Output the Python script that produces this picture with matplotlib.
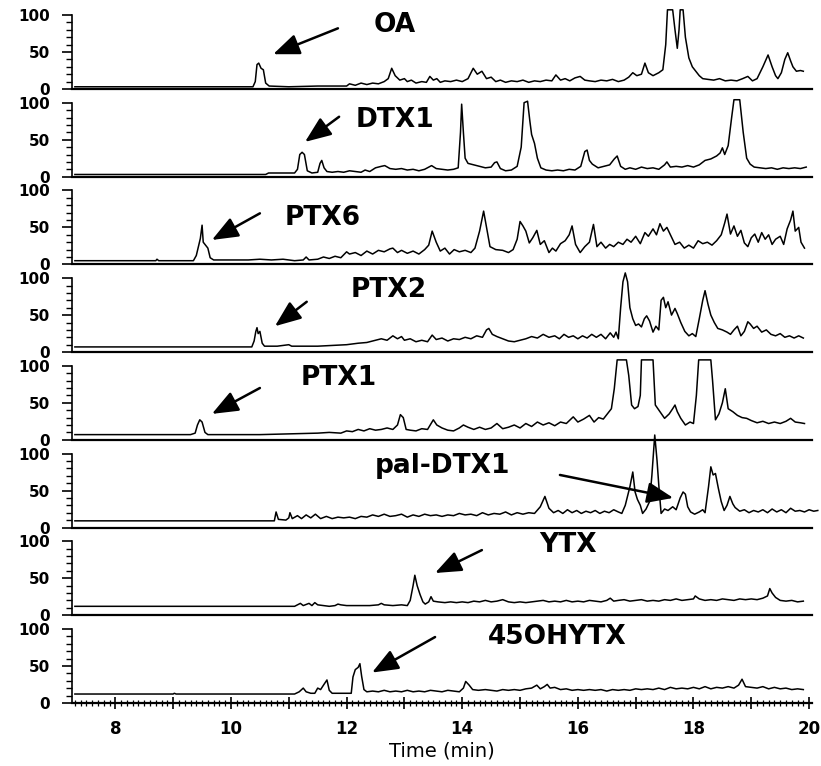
import matplotlib.pyplot as plt
from matplotlib.ticker import MultipleLocator, FuncFormatter

plt.rcParams['font.family'] = ['DejaVu Sans']

# ---- chromatogram traces (time in min, relative intensity %) ----
OA_T = [7.3, 10.38, 10.42, 10.45, 10.48, 10.52, 10.56, 10.6, 10.66, 11.0, 11.5, 12.0, 12.05, 12.15,
        12.25, 12.35, 12.45, 12.55, 12.65, 12.72, 12.78, 12.84, 12.92, 13.0, 13.05, 13.12, 13.2, 13.3,
        13.38, 13.44, 13.5, 13.56, 13.62, 13.7, 13.8, 13.9, 14.0, 14.1, 14.19, 14.26, 14.34, 14.42,
        14.5, 14.58, 14.66, 14.75, 14.85, 14.95, 15.05, 15.15, 15.25, 15.35, 15.45, 15.55, 15.62, 15.7,
        15.78, 15.86, 15.95, 16.04, 16.12, 16.2, 16.3, 16.4, 16.5, 16.6, 16.7, 16.8, 16.88, 16.95,
        17.02, 17.1, 17.16, 17.22, 17.3, 17.4, 17.47, 17.52, 17.55, 17.64, 17.68, 17.72, 17.75, 17.77,
        17.82, 17.86, 17.92, 17.98, 18.04, 18.1, 18.16, 18.25, 18.35, 18.45, 18.55, 18.65, 18.75, 18.85,
        18.94, 19.02, 19.1, 19.2, 19.29, 19.36, 19.42, 19.46, 19.52, 19.58, 19.63, 19.68, 19.72, 19.78,
        19.85, 19.9]
OA_V = [3, 3, 10, 33, 35, 28, 26, 8, 4, 3, 4, 4, 7, 5,
        8, 6, 8, 7, 10, 14, 28, 18, 12, 14, 10, 12, 8, 10,
        9, 17, 12, 14, 9, 11, 10, 12, 10, 14, 28, 20, 24, 14,
        16, 10, 12, 9, 11, 10, 12, 9, 11, 10, 12, 11, 19, 12,
        14, 11, 15, 17, 12, 11, 10, 12, 11, 13, 10, 12, 16, 22,
        18, 20, 35, 22, 18, 22, 26, 60, 107, 107, 80, 55, 80, 107,
        107, 70, 42, 30, 24, 18, 14, 13, 12, 14, 11, 12, 11, 14,
        17, 11, 14, 30, 46, 30, 18, 14, 22, 40, 49, 38, 30, 24,
        25, 24]

DTX1_T = [7.3, 10.6, 10.65, 11.1, 11.15, 11.19, 11.23, 11.27, 11.32, 11.4, 11.5, 11.54, 11.57, 11.61,
          11.66, 11.75, 11.85, 11.95, 12.05, 12.15, 12.25, 12.32, 12.4, 12.5, 12.6, 12.66, 12.75, 12.85,
          12.95, 13.05, 13.15, 13.25, 13.35, 13.47, 13.55, 13.65, 13.75, 13.85, 13.93, 13.97, 13.99, 14.02,
          14.05, 14.1, 14.2, 14.3, 14.4, 14.5, 14.56, 14.6, 14.66, 14.75, 14.85, 14.95, 15.02, 15.07,
          15.13, 15.17, 15.2, 15.25, 15.3, 15.36, 15.45, 15.55, 15.65, 15.75, 15.85, 15.95, 16.05, 16.12,
          16.16, 16.2, 16.25, 16.35, 16.45, 16.55, 16.63, 16.68, 16.74, 16.82, 16.9, 17.0, 17.1, 17.2,
          17.3, 17.4, 17.5, 17.54, 17.6, 17.7, 17.8, 17.9, 18.0, 18.1, 18.2, 18.3, 18.4, 18.46, 18.5,
          18.54, 18.6, 18.66, 18.7, 18.8, 18.86, 18.92, 18.98, 19.05, 19.15, 19.25, 19.35, 19.45, 19.55,
          19.65, 19.75, 19.85, 19.95]
DTX1_V = [3, 3, 5, 5, 10, 30, 33, 30, 8, 5, 6, 18, 22, 12,
          7, 6, 7, 6, 8, 7, 6, 9, 7, 12, 14, 15, 11, 10,
          11, 9, 10, 8, 10, 15, 11, 10, 9, 10, 12, 60, 98, 60,
          25, 18, 16, 14, 12, 13, 19, 20, 11, 8, 9, 14, 40, 100,
          102, 75, 57, 45, 25, 12, 9, 8, 9, 8, 10, 9, 14, 34,
          36, 22, 17, 12, 14, 16, 24, 28, 14, 10, 12, 10, 13, 11,
          12, 10, 16, 20, 13, 14, 13, 15, 13, 16, 22, 24, 28, 32, 39,
          30, 42, 80, 104, 104, 60, 25, 17, 13, 12, 11, 12, 10, 12,
          11, 12, 11, 13]

PTX6_T = [7.3, 8.7, 8.72, 8.75, 9.35, 9.4, 9.44, 9.47, 9.5, 9.52, 9.56, 9.6, 9.64, 9.7, 10.0, 10.3,
          10.5, 10.7, 10.9, 11.1, 11.25, 11.3, 11.35, 11.5, 11.6, 11.7, 11.8, 11.9, 12.0, 12.05, 12.15,
          12.25, 12.35, 12.45, 12.55, 12.65, 12.75, 12.8, 12.88, 12.95, 13.05, 13.15, 13.25, 13.35, 13.42,
          13.48, 13.55, 13.62, 13.7, 13.78, 13.86, 13.95, 14.05, 14.15, 14.22, 14.3, 14.37, 14.42, 14.48,
          14.58, 14.7, 14.8, 14.88, 14.95, 15.0, 15.05, 15.1, 15.16, 15.22, 15.29, 15.35, 15.42, 15.5,
          15.56, 15.62, 15.7, 15.78, 15.85, 15.9, 15.96, 16.04, 16.12, 16.2, 16.27, 16.33, 16.4, 16.48,
          16.55, 16.62, 16.7, 16.78, 16.85, 16.92, 17.0, 17.08, 17.16, 17.22, 17.3, 17.36, 17.42, 17.48,
          17.54, 17.6, 17.68, 17.76, 17.84, 17.92, 18.0, 18.08, 18.16, 18.24, 18.32, 18.4, 18.48, 18.54,
          18.58, 18.64, 18.7, 18.76, 18.82, 18.88, 18.94, 19.0, 19.06, 19.12, 19.18, 19.24, 19.3, 19.36,
          19.42, 19.5, 19.56, 19.62, 19.68, 19.72, 19.76, 19.82, 19.86, 19.92]
PTX6_V = [5, 5, 7, 5, 5, 12, 25, 35, 53, 30, 26, 22, 9, 6, 6, 6,
          7, 6, 7, 5, 6, 10, 6, 7, 10, 8, 11, 9, 17, 14, 16,
          12, 18, 14, 19, 17, 21, 22, 16, 19, 15, 18, 14, 20, 26,
          45, 30, 18, 22, 14, 20, 17, 19, 16, 22, 45, 72, 50, 24,
          20, 19, 16, 20, 34, 58, 52, 45, 29, 36, 46, 27, 32, 16,
          22, 18, 28, 32, 40, 52, 27, 16, 24, 30, 54, 24, 30, 22,
          27, 24, 30, 27, 34, 30, 38, 28, 43, 38, 48, 40, 55, 45,
          50, 40, 27, 30, 22, 26, 22, 32, 28, 30, 26, 32, 40, 56,
          68, 41, 52, 38, 46, 29, 24, 36, 41, 30, 43, 34, 40, 27,
          34, 38, 27, 48, 60, 72, 45, 50, 30, 22]

PTX2_T = [7.3, 10.36, 10.4, 10.43, 10.45, 10.47, 10.5, 10.54, 10.58, 10.8, 11.0, 11.05, 11.5, 12.0,
          12.2, 12.35, 12.5, 12.6, 12.7, 12.8, 12.88, 12.95, 13.0, 13.1, 13.2, 13.3, 13.4, 13.48, 13.55,
          13.65, 13.75, 13.85, 13.95, 14.05, 14.15, 14.25, 14.35, 14.42, 14.46, 14.52, 14.6, 14.7, 14.8,
          14.9, 15.0, 15.1, 15.2, 15.3, 15.4, 15.5, 15.6, 15.68, 15.76, 15.84, 15.92, 16.0, 16.08, 16.16,
          16.24, 16.32, 16.4, 16.48, 16.56, 16.62, 16.66, 16.7, 16.74, 16.78, 16.82, 16.86, 16.9, 16.95,
          17.0, 17.05, 17.1, 17.15, 17.19, 17.24, 17.3, 17.35, 17.4, 17.44, 17.48, 17.52, 17.56, 17.62,
          17.68, 17.72, 17.78, 17.85, 17.92, 17.98, 18.04, 18.1, 18.16, 18.2, 18.25, 18.3, 18.36, 18.42,
          18.5, 18.58, 18.64, 18.7, 18.76, 18.82, 18.88, 18.94, 18.98, 19.04, 19.1, 19.18, 19.26, 19.34,
          19.42, 19.5, 19.58, 19.66, 19.74, 19.82, 19.9]
PTX2_V = [7, 7, 15, 28, 33, 25, 28, 12, 8, 8, 10, 8, 8, 10,
          12, 13, 16, 18, 16, 22, 18, 21, 16, 18, 14, 16, 14, 23, 17,
          19, 15, 18, 17, 20, 18, 22, 20, 30, 32, 24, 21, 18, 15,
          14, 16, 18, 21, 19, 24, 20, 22, 18, 24, 20, 22, 18, 22, 19,
          24, 20, 24, 18, 26, 20, 27, 18, 60, 95, 107, 95, 60, 45,
          36, 38, 34, 45, 49, 42, 27, 35, 30, 70, 74, 60, 68, 50,
          59, 52, 40, 28, 22, 25, 21, 45, 70, 83, 65, 50, 40, 32,
          30, 27, 24, 30, 35, 22, 28, 41, 38, 32, 35, 27, 30, 24,
          22, 25, 20, 22, 19, 22, 19]

PTX1_T = [7.3, 9.3, 9.38, 9.42, 9.46, 9.5, 9.55, 9.6, 10.0, 10.5, 11.0, 11.5, 11.7, 11.9, 12.0, 12.1,
          12.2, 12.3, 12.4, 12.5, 12.6, 12.7, 12.8, 12.88, 12.93, 12.98, 13.03, 13.1, 13.2, 13.3, 13.4,
          13.5, 13.56, 13.65, 13.75, 13.85, 13.95, 14.02, 14.1, 14.2, 14.3, 14.4, 14.5, 14.6, 14.7, 14.8,
          14.9, 15.0, 15.1, 15.2, 15.3, 15.4, 15.5, 15.6, 15.7, 15.8, 15.92, 16.0, 16.1, 16.2, 16.28,
          16.36, 16.44, 16.52, 16.58, 16.63, 16.68, 16.84, 16.88, 16.93, 16.98, 17.04, 17.08, 17.1, 17.3,
          17.34, 17.42, 17.5, 17.58, 17.64, 17.68, 17.72, 17.78, 17.86, 17.94, 18.0, 18.05, 18.09, 18.3,
          18.33, 18.38, 18.44, 18.5, 18.55, 18.6, 18.68, 18.76, 18.84, 18.92, 19.0, 19.1, 19.2, 19.3,
          19.4, 19.5, 19.6, 19.68, 19.76, 19.85, 19.92]
PTX1_V = [7, 7, 9, 20, 27, 24, 10, 7, 7, 7, 8, 9, 10, 9, 12, 11,
          14, 12, 15, 13, 14, 16, 14, 20, 34, 30, 14, 13, 12, 15, 14,
          27, 20, 16, 13, 12, 16, 20, 17, 14, 17, 14, 16, 22, 15, 17,
          20, 16, 22, 18, 24, 20, 23, 19, 24, 22, 31, 24, 28, 33, 24,
          30, 28, 36, 42, 69, 108, 108, 87, 47, 42, 45, 60, 108, 108,
          47, 38, 29, 35, 42, 47, 38, 29, 20, 24, 22, 60, 108, 108,
          80, 27, 35, 50, 69, 42, 38, 33, 30, 29, 26, 23, 25, 22,
          24, 22, 25, 29, 24, 23, 22]

PAL_T = [7.3, 10.75, 10.78, 10.82, 10.95, 11.0, 11.02, 11.06, 11.15, 11.22, 11.3, 11.38, 11.46, 11.55,
         11.65, 11.75, 11.85, 11.95, 12.05, 12.15, 12.25, 12.35, 12.45, 12.55, 12.65, 12.75, 12.85, 12.95,
         13.05, 13.15, 13.25, 13.35, 13.45, 13.55, 13.65, 13.75, 13.85, 13.95, 14.05, 14.15, 14.25, 14.35,
         14.45, 14.55, 14.65, 14.75, 14.85, 14.95, 15.05, 15.15, 15.25, 15.35, 15.43, 15.5, 15.58, 15.66,
         15.74, 15.82, 15.9, 15.98, 16.06, 16.14, 16.22, 16.3, 16.38, 16.46, 16.54, 16.62, 16.7, 16.76,
         16.82, 16.9, 16.95, 16.99, 17.03, 17.08, 17.12, 17.18, 17.24, 17.28, 17.33, 17.37, 17.4, 17.44,
         17.5, 17.56, 17.64, 17.7, 17.77, 17.82, 17.86, 17.9, 17.95, 18.02, 18.1, 18.16, 18.2, 18.26,
         18.3, 18.34, 18.38, 18.43, 18.48, 18.53, 18.58, 18.63, 18.68, 18.72, 18.8, 18.88, 18.96, 19.04,
         19.12, 19.2, 19.28, 19.36, 19.44, 19.52, 19.6, 19.68, 19.76, 19.84, 19.92, 20.0, 20.08, 20.15]
PAL_V = [9, 9, 21, 11, 10, 13, 20, 12, 16, 12, 17, 13, 18, 12,
         15, 12, 14, 13, 14, 12, 15, 14, 17, 15, 18, 15, 16, 18,
         14, 17, 15, 18, 16, 17, 15, 17, 16, 19, 17, 18, 16, 20,
         17, 19, 18, 21, 17, 20, 18, 20, 19, 28, 42, 26, 20, 23,
         19, 24, 20, 23, 19, 22, 20, 23, 19, 22, 20, 24, 21, 19,
         30, 55, 75, 48, 38, 30, 19, 25, 35, 70, 125, 90, 57, 19,
         25, 23, 28, 24, 40, 48, 45, 28, 21, 18, 21, 24, 20, 55,
         82, 71, 73, 53, 35, 23, 30, 42, 32, 27, 22, 24, 20, 23,
         21, 24, 20, 25, 21, 24, 20, 26, 22, 23, 21, 24, 22, 23]

YTX_T = [7.3, 11.1, 11.15, 11.2, 11.25, 11.35, 11.4, 11.45, 11.5, 11.6, 11.7, 11.8, 11.85, 11.9, 12.0,
         12.2, 12.4, 12.55, 12.6, 12.65, 12.8, 12.95, 13.05, 13.1, 13.15, 13.18, 13.22, 13.27, 13.32,
         13.36, 13.42, 13.46, 13.5, 13.58, 13.7, 13.8, 13.9, 14.0, 14.1, 14.2, 14.3, 14.4, 14.5, 14.6,
         14.7, 14.8, 14.9, 15.0, 15.1, 15.2, 15.3, 15.4, 15.5, 15.6, 15.7, 15.8, 15.9, 16.0, 16.1, 16.2,
         16.3, 16.4, 16.5, 16.56, 16.62, 16.7, 16.8, 16.9, 17.0, 17.1, 17.2, 17.3, 17.4, 17.5, 17.6,
         17.7, 17.8, 17.9, 18.0, 18.03, 18.1, 18.2, 18.3, 18.4, 18.5, 18.6, 18.7, 18.8, 18.9, 19.0,
         19.1, 19.2, 19.28, 19.32, 19.36, 19.42, 19.5, 19.6, 19.7, 19.8, 19.9]
YTX_V = [12, 12, 14, 16, 13, 16, 13, 17, 14, 13, 12, 13, 15, 14, 13,
         13, 13, 14, 16, 14, 13, 14, 13, 20, 40, 54, 40, 28, 18,
         15, 18, 25, 19, 18, 17, 18, 17, 18, 17, 19, 18, 20, 18, 19,
         21, 18, 17, 18, 17, 18, 19, 20, 18, 19, 18, 20, 18, 19, 18, 20,
         19, 18, 20, 23, 19, 20, 21, 19, 20, 21, 19, 20, 19, 21, 20,
         22, 20, 21, 22, 26, 22, 20, 21, 20, 22, 21, 20, 22, 21, 22,
         21, 23, 26, 36, 30, 24, 20, 19, 20, 18, 19]

OHYTX_T = [7.3, 9.0, 9.02, 9.05, 11.1, 11.18, 11.25, 11.3, 11.38, 11.45, 11.5, 11.55, 11.6, 11.66,
           11.7, 11.75, 12.08, 12.11, 12.15, 12.2, 12.23, 12.26, 12.3, 12.35, 12.45, 12.55, 12.65, 12.75,
           12.85, 12.95, 13.05, 13.15, 13.25, 13.35, 13.45, 13.55, 13.65, 13.75, 13.85, 13.95, 14.02,
           14.06, 14.12, 14.18, 14.28, 14.4, 14.5, 14.6, 14.7, 14.8, 14.9, 15.0, 15.1, 15.2, 15.29, 15.35,
           15.42, 15.47, 15.52, 15.6, 15.7, 15.8, 15.9, 16.0, 16.1, 16.2, 16.3, 16.4, 16.5, 16.6, 16.7,
           16.8, 16.9, 17.0, 17.1, 17.2, 17.3, 17.4, 17.5, 17.6, 17.7, 17.8, 17.9, 18.0, 18.1, 18.2, 18.3,
           18.4, 18.5, 18.6, 18.7, 18.78, 18.84, 18.9, 19.0, 19.1, 19.2, 19.3, 19.4, 19.5, 19.6, 19.7,
           19.8, 19.9]
OHYTX_V = [12, 12, 13, 12, 12, 15, 20, 15, 13, 13, 20, 18, 24, 31,
           17, 13, 13, 35, 45, 48, 53, 36, 18, 15, 16, 15, 17, 15,
           16, 15, 17, 15, 16, 15, 17, 16, 15, 17, 16, 15, 20,
           29, 24, 18, 17, 18, 17, 16, 18, 17, 18, 17, 19, 20, 24, 19,
           22, 25, 20, 21, 18, 19, 17, 18, 17, 18, 17, 18, 16, 18, 17,
           18, 17, 19, 18, 19, 18, 20, 18, 21, 19, 20, 19, 21, 19, 22, 19,
           21, 20, 22, 20, 24, 32, 22, 21, 20, 22, 19, 21, 19, 20, 18,
           19, 18]

TRACES = [(OA_T, OA_V), (DTX1_T, DTX1_V), (PTX6_T, PTX6_V), (PTX2_T, PTX2_V),
          (PTX1_T, PTX1_V), (PAL_T, PAL_V), (YTX_T, YTX_V), (OHYTX_T, OHYTX_V)]

# ---- annotations: label text, label position, arrow tail, arrow tip (time, intensity) ----
LABELS = ["OA", "DTX1", "PTX6", "PTX2", "PTX1", "pal-DTX1", "YTX", "45OHYTX"]
LABEL_XY = [(12.84, 86), (12.84, 77), (11.59, 63), (12.72, 84),
            (11.87, 84), (13.65, 83), (15.83, 95), (15.64, 89)]
ARROW_TAIL = [(11.85, 82), (11.87, 81), (10.50, 69), (11.31, 68),
              (10.50, 70), (15.69, 71), (14.34, 88), (13.53, 89)]
ARROW_TIP = [(10.73, 47), (11.28, 47), (9.67, 33), (10.76, 35),
             (9.67, 35), (17.65, 40), (13.53, 57), (12.44, 41)]

W, H = 821, 766
fig = plt.figure(figsize=(W / 100, H / 100), dpi=100)

n = len(TRACES)
for i, ((t, v), lab, lxy, tail, tip) in enumerate(zip(TRACES, LABELS, LABEL_XY, ARROW_TAIL, ARROW_TIP)):
    bottom_px = 89 + i * 87.7
    ax = fig.add_axes([72 / W, (H - bottom_px) / H, 740 / W, 74 / H])
    ax.patch.set_alpha(0)
    ax.plot(t, v, color="black", lw=1.1, clip_on=False)
    ax.set_xlim(7.25, 20.05)
    ax.set_ylim(0, 100)

    for s in ("top", "right"):
        ax.spines[s].set_visible(False)
    ax.spines["bottom"].set_linewidth(1.6)
    ax.spines["left"].set_linewidth(1.2)

    ax.yaxis.set_major_locator(MultipleLocator(50))
    ax.yaxis.set_minor_locator(MultipleLocator(10))
    ax.tick_params(axis="y", which="major", direction="out", length=7, width=1.2,
                   labelsize=11, pad=9)
    ax.tick_params(axis="y", which="minor", direction="out", length=4, width=1.0)
    for tl in ax.get_yticklabels():
        tl.set_fontweight("bold")

    ax.xaxis.set_major_locator(MultipleLocator(1))
    ax.xaxis.set_minor_locator(MultipleLocator(0.1))
    if i == n - 1:
        ax.xaxis.set_major_formatter(FuncFormatter(lambda x, p: f"{x:.0f}" if round(x) % 2 == 0 else ""))
        ax.tick_params(axis="x", which="major", direction="inout", length=9, width=1.2,
                       labelsize=12, pad=8)
        ax.tick_params(axis="x", which="minor", direction="inout", length=4, width=0.9)
        for tl in ax.get_xticklabels():
            tl.set_fontweight("bold")
        ax.set_xlabel("Time (min)", fontsize=14, labelpad=2)
    else:
        ax.tick_params(axis="x", which="both", length=0, labelbottom=False)

    ax.text(lxy[0], lxy[1], lab, ha="center", va="center", fontsize=19,
            fontweight="bold", clip_on=False)
    ax.annotate("", xy=tip, xytext=tail,
                arrowprops=dict(arrowstyle="-|>,head_length=0.8,head_width=0.32",
                                mutation_scale=20, color="black", lw=1.8,
                                shrinkA=0, shrinkB=0),
                annotation_clip=False)

fig.savefig("out.png", dpi=100)
